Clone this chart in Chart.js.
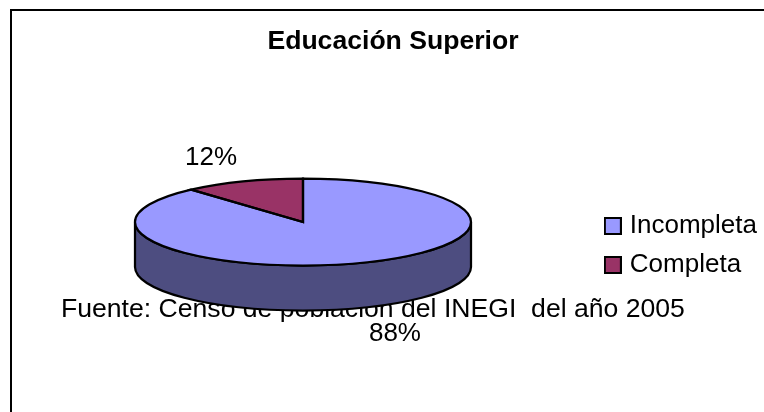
<!DOCTYPE html>
<html>
<head>
<meta charset="utf-8">
<script src="https://cdn.jsdelivr.net/npm/chart.js@4/dist/chart.umd.min.js"></script>
<style>
  html, body { margin: 0; padding: 0; background: #fff; overflow: hidden; }
  #frame { position: absolute; left: 10px; top: 9px; width: 764px; height: 403px; border-top: 2px solid #000; border-left: 2px solid #000; }
  canvas { display: block; }
</style>
</head>
<body>
<div id="frame"><canvas id="myChart" width="762" height="401"></canvas></div>
<script>
const titleText = 'Educación Superior';
const sourceText = 'Fuente: Censo de población del INEGI  del año 2005';
const categories = ['Incompleta', 'Completa'];
const values = [88.4, 11.6];
const colors = ['#9999ff', '#993366'];
const sideColors = ['#4d4d80', '#4d1a33'];

const FONT = '"Liberation Sans", Arial, sans-serif';
const textSize = 26;
// pie squashed into an ellipse, values in canvas px
const pieX = 291;
const pieY = 211;
const squash = 43.5 / 168;
const depth = 45;
const outline = 2.25;

// legend swatch as a small canvas, gets the text closer than the default box
function swatch(color) {
  const c = document.createElement('canvas');
  c.width = 18;
  c.height = 18;
  const g = c.getContext('2d');
  g.fillStyle = color;
  g.fillRect(0, 0, 18, 18);
  g.strokeStyle = '#000';
  g.lineWidth = 2;
  g.strokeRect(1, 1, 16, 16);
  return c;
}

const pie3d = {
  id: 'pie3d',
  beforeDatasetsDraw(chart) {
    const ctx = chart.ctx;
    const arcs = chart.getDatasetMeta(0).data;
    const r = arcs[0].outerRadius, ry = r * squash;

    // source text goes under the pie, the wall covers part of it
    ctx.save();
    ctx.fillStyle = '#000';
    ctx.font = '26.6px ' + FONT;
    ctx.textBaseline = 'alphabetic';
    ctx.fillText(sourceText, 49, 306);
    ctx.restore();

    // front wall, one piece per slice
    ctx.save();
    ctx.lineWidth = outline;
    ctx.strokeStyle = '#000';
    arcs.forEach((arc, i) => {
      const s = Math.max(arc.startAngle, 0), e = Math.min(arc.endAngle, Math.PI);
      if (s >= e) return;
      ctx.beginPath();
      ctx.ellipse(pieX, pieY, r, ry, 0, s, e);
      ctx.ellipse(pieX, pieY + depth, r, ry, 0, e, s, true);
      ctx.closePath();
      ctx.fillStyle = sideColors[i];
      ctx.fill();
      ctx.stroke();
    });
    ctx.restore();

    ctx.save();
    ctx.translate(pieX, pieY);
    ctx.scale(1, squash);
    ctx.translate(-arcs[0].x, -arcs[0].y);
  },
  afterDatasetsDraw(chart) {
    const ctx = chart.ctx;
    ctx.restore();
    const arcs = chart.getDatasetMeta(0).data;
    const r = arcs[0].outerRadius, ry = r * squash;
    const total = values.reduce((a, b) => a + b, 0);

    ctx.save();
    ctx.lineWidth = outline;
    ctx.strokeStyle = '#000';
    ctx.lineJoin = 'miter';
    arcs.forEach((arc) => {
      ctx.beginPath();
      ctx.moveTo(pieX, pieY);
      ctx.ellipse(pieX, pieY, r, ry, 0, arc.startAngle, arc.endAngle);
      ctx.closePath();
      ctx.stroke();
    });

    // percent labels
    ctx.fillStyle = '#000';
    ctx.font = textSize + 'px ' + FONT;
    ctx.textAlign = 'center';
    ctx.textBaseline = 'middle';
    arcs.forEach((arc, i) => {
      const mid = (arc.startAngle + arc.endAngle) / 2;
      const lx = pieX + Math.cos(mid) * 258;
      const ly = pieY + Math.sin(mid) * 70 + (Math.sin(mid) > 0 ? depth : 0);
      ctx.fillText(Math.round(values[i] / total * 100) + '%', lx, ly + 1);
    });
    ctx.restore();
  }
};

const data = {
  labels: categories,
  datasets: [{
    data: values,
    backgroundColor: colors,
    borderWidth: 0,
    clip: false
  }]
};

const config = {
  type: 'pie',
  data: data,
  plugins: [pie3d],
  options: {
    responsive: false,
    animation: false,
    events: [],
    radius: 168,
    rotation: 0,
    layout: { padding: { left: 7, right: 7 } },
    plugins: {
      title: {
        display: true,
        text: titleText,
        color: '#000',
        font: { family: FONT, size: 26.6, weight: 'bold' },
        padding: { top: 15, bottom: 21 }
      },
      legend: {
        position: 'right',
        fullSize: false,
        labels: {
          color: '#000',
          font: { family: FONT, size: textSize },
          usePointStyle: true,
          pointStyleWidth: 8,
          boxHeight: 16,
          padding: 13,
          generateLabels(chart) {
            return categories.map((name, i) => ({
              text: name,
              fontColor: '#000',
              pointStyle: swatch(colors[i]),
              index: i
            }));
          }
        }
      },
      tooltip: { enabled: false }
    }
  }
};

var myChart = new Chart(document.getElementById('myChart'), config);
</script>
</body>
</html>
